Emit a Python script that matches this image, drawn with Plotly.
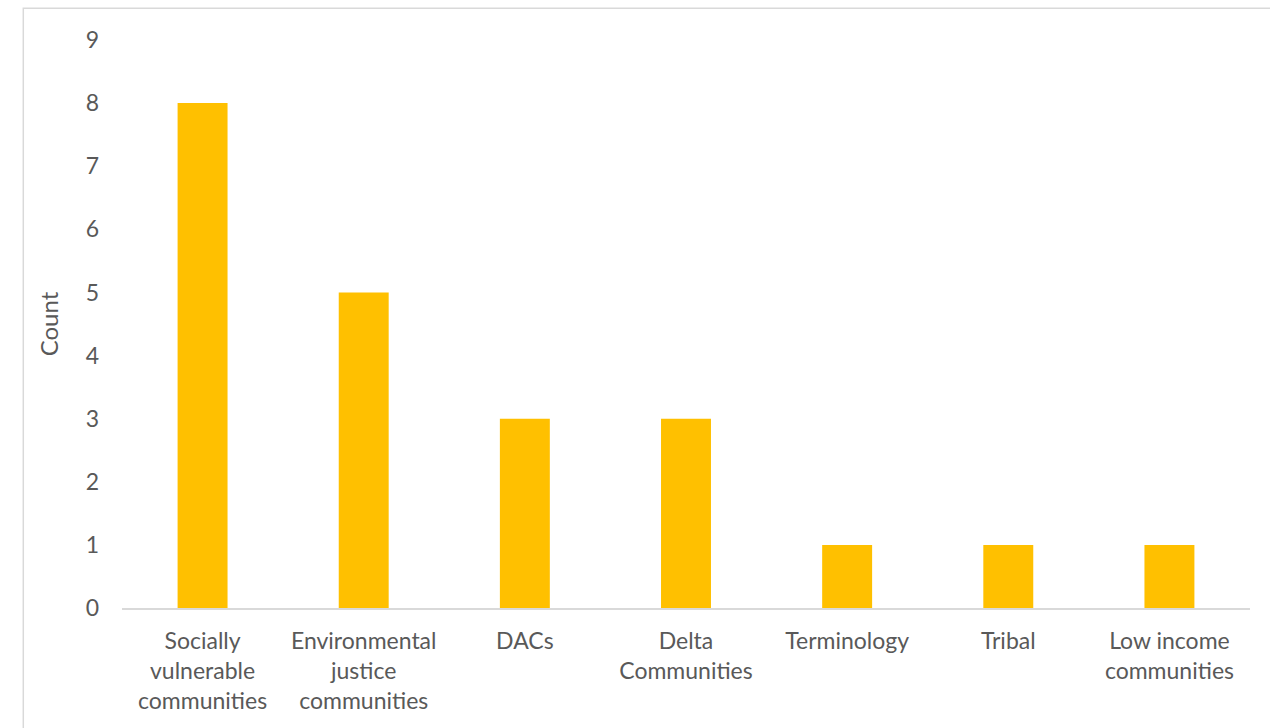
import plotly.graph_objects as go

categories = ["Socially<br>vulnerable<br>communities", "Environmental<br>justice<br>communities",
              "DACs", "Delta<br>Communities", "Terminology", "Tribal", "Low income<br>communities"]
counts = [8, 5, 3, 3, 1, 1, 1]
y_ticks = [0, 1, 2, 3, 4, 5, 6, 7, 8, 9]

font_family = "Lato, Open Sans, sans-serif"
txt = "#595959"

fig = go.Figure(go.Bar(x=categories, y=counts, marker=dict(color="#FFC000", line=dict(width=0)),
                       width=0.31))
fig.update_layout(
    width=1270, height=728,
    margin=dict(l=122, r=20, t=40, b=120),
    paper_bgcolor="white", plot_bgcolor="white",
    showlegend=False,
    font=dict(family=font_family, size=23, color=txt),
    xaxis=dict(showline=True, linecolor="#D9D9D9", linewidth=1.5, ticks="", showgrid=False,
               tickfont=dict(size=23, color=txt), ticklabelstandoff=12),
    yaxis=dict(range=[0, 9], tickvals=y_ticks, showgrid=False, zeroline=False, showline=False,
               tickfont=dict(size=23, color=txt), ticklabelstandoff=22,
               title=dict(text="Count", font=dict(size=24, color=txt), standoff=20)),
    shapes=[dict(type="rect", xref="paper", yref="paper", x0=-0.0875, x1=1.2, y0=-0.4, y1=1.056,
                 line=dict(color="#D9D9D9", width=1.5), fillcolor="rgba(0,0,0,0)", layer="below")],
)
fig.write_html("out.html")
